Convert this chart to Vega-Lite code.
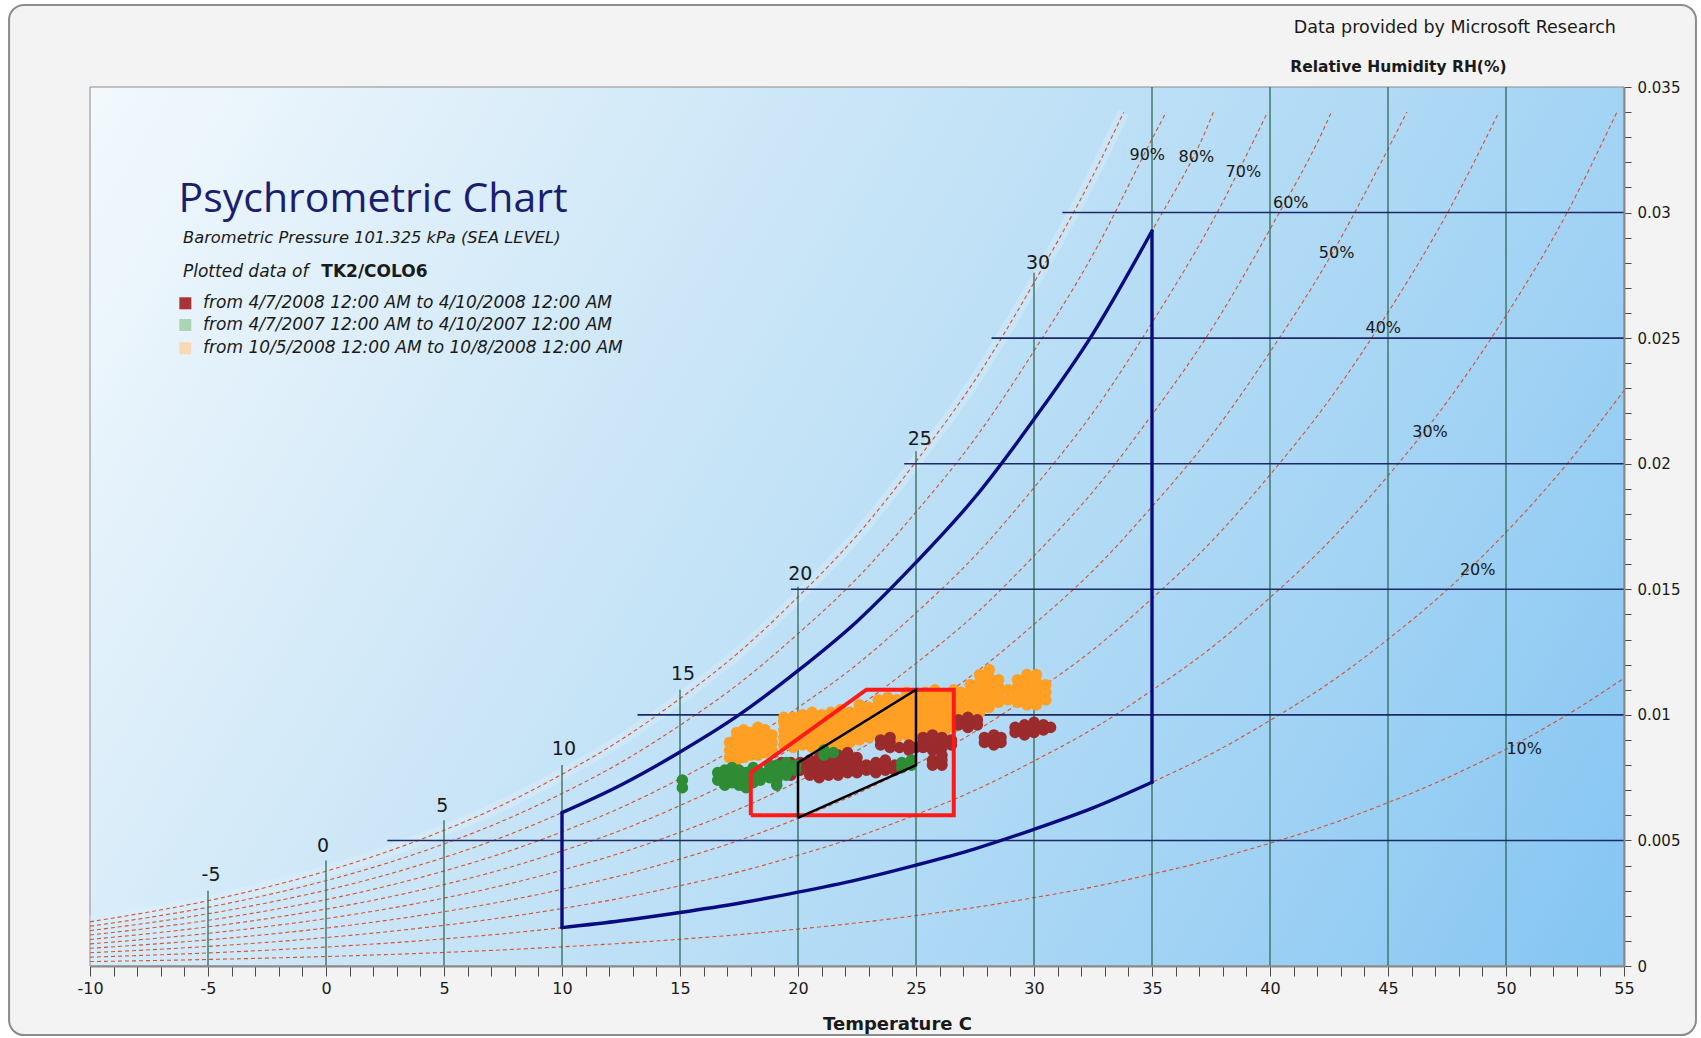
{
  "$schema": "https://vega.github.io/schema/vega-lite/v6.json",
  "width": 1534,
  "height": 879,
  "autosize": {"type": "none"},
  "padding": {"left": 90, "top": 87, "right": 77, "bottom": 72},
  "background": "#ffffff",
  "config": {"view": {"stroke": null}},
  "data": {"values": [{}]},
  "datasets": {
    "rh": [
      {"rh":100,"t":-10,"w":0.0017625},{"rh":100,"t":-7.5,"w":0.0021486},{"rh":100,"t":-5,"w":0.0025982},{"rh":100,"t":-2.5,"w":0.0031404},{"rh":100,"t":0,"w":0.0037747},{"rh":100,"t":2.5,"w":0.0045213},{"rh":100,"t":5,"w":0.0054031},{"rh":100,"t":7.5,"w":0.0064228},{"rh":100,"t":10,"w":0.0076321},{"rh":100,"t":12.5,"w":0.0090093},{"rh":100,"t":15,"w":0.01065},{"rh":100,"t":17.5,"w":0.012496},{"rh":100,"t":20,"w":0.014699},{"rh":100,"t":22.5,"w":0.017151},{"rh":100,"t":25,"w":0.020086},{"rh":100,"t":27.5,"w":0.023329},{"rh":100,"t":30,"w":0.02721},{"rh":100,"t":32.5,"w":0.031479},{"rh":100,"t":33.8,"w":0.034},
      {"rh":90,"t":-10,"w":0.0015863},{"rh":90,"t":-7.5,"w":0.0019337},{"rh":90,"t":-5,"w":0.0023384},{"rh":90,"t":-2.5,"w":0.0028264},{"rh":90,"t":0,"w":0.0033972},{"rh":90,"t":2.5,"w":0.0040692},{"rh":90,"t":5,"w":0.0048628},{"rh":90,"t":7.5,"w":0.0057805},{"rh":90,"t":10,"w":0.0068689},{"rh":90,"t":12.5,"w":0.0081084},{"rh":90,"t":15,"w":0.009585},{"rh":90,"t":17.5,"w":0.011246},{"rh":90,"t":20,"w":0.013229},{"rh":90,"t":22.5,"w":0.015436},{"rh":90,"t":25,"w":0.018077},{"rh":90,"t":27.5,"w":0.020996},{"rh":90,"t":30,"w":0.024489},{"rh":90,"t":32.5,"w":0.028331},{"rh":90,"t":35,"w":0.032926},{"rh":90,"t":35.6,"w":0.034},
      {"rh":80,"t":-10,"w":0.00141},{"rh":80,"t":-7.5,"w":0.0017189},{"rh":80,"t":-5,"w":0.0020786},{"rh":80,"t":-2.5,"w":0.0025123},{"rh":80,"t":0,"w":0.0030198},{"rh":80,"t":2.5,"w":0.003617},{"rh":80,"t":5,"w":0.0043225},{"rh":80,"t":7.5,"w":0.0051382},{"rh":80,"t":10,"w":0.0061057},{"rh":80,"t":12.5,"w":0.0072074},{"rh":80,"t":15,"w":0.00852},{"rh":80,"t":17.5,"w":0.0099968},{"rh":80,"t":20,"w":0.011759},{"rh":80,"t":22.5,"w":0.013721},{"rh":80,"t":25,"w":0.016069},{"rh":80,"t":27.5,"w":0.018663},{"rh":80,"t":30,"w":0.021768},{"rh":80,"t":32.5,"w":0.025183},{"rh":80,"t":35,"w":0.029267},{"rh":80,"t":37.5,"w":0.033764},{"rh":80,"t":37.6,"w":0.034},
      {"rh":70,"t":-10,"w":0.0012338},{"rh":70,"t":-7.5,"w":0.001504},{"rh":70,"t":-5,"w":0.0018187},{"rh":70,"t":-2.5,"w":0.0021983},{"rh":70,"t":0,"w":0.0026423},{"rh":70,"t":2.5,"w":0.0031649},{"rh":70,"t":5,"w":0.0037822},{"rh":70,"t":7.5,"w":0.004496},{"rh":70,"t":10,"w":0.0053425},{"rh":70,"t":12.5,"w":0.0063065},{"rh":70,"t":15,"w":0.007455},{"rh":70,"t":17.5,"w":0.0087472},{"rh":70,"t":20,"w":0.010289},{"rh":70,"t":22.5,"w":0.012006},{"rh":70,"t":25,"w":0.01406},{"rh":70,"t":27.5,"w":0.01633},{"rh":70,"t":30,"w":0.019047},{"rh":70,"t":32.5,"w":0.022035},{"rh":70,"t":35,"w":0.025609},{"rh":70,"t":37.5,"w":0.029544},{"rh":70,"t":39.9,"w":0.034},
      {"rh":60,"t":-10,"w":0.0010575},{"rh":60,"t":-7.5,"w":0.0012892},{"rh":60,"t":-5,"w":0.0015589},{"rh":60,"t":-2.5,"w":0.0018842},{"rh":60,"t":0,"w":0.0022648},{"rh":60,"t":2.5,"w":0.0027128},{"rh":60,"t":5,"w":0.0032419},{"rh":60,"t":7.5,"w":0.0038537},{"rh":60,"t":10,"w":0.0045793},{"rh":60,"t":12.5,"w":0.0054056},{"rh":60,"t":15,"w":0.00639},{"rh":60,"t":17.5,"w":0.0074976},{"rh":60,"t":20,"w":0.0088194},{"rh":60,"t":22.5,"w":0.010291},{"rh":60,"t":25,"w":0.012052},{"rh":60,"t":27.5,"w":0.013997},{"rh":60,"t":30,"w":0.016326},{"rh":60,"t":32.5,"w":0.018887},{"rh":60,"t":35,"w":0.02195},{"rh":60,"t":37.5,"w":0.025323},{"rh":60,"t":40,"w":0.029336},{"rh":60,"t":42.5,"w":0.033787},{"rh":60,"t":42.6,"w":0.034},
      {"rh":50,"t":-10,"w":0.00088125},{"rh":50,"t":-7.5,"w":0.0010743},{"rh":50,"t":-5,"w":0.0012991},{"rh":50,"t":-2.5,"w":0.0015702},{"rh":50,"t":0,"w":0.0018874},{"rh":50,"t":2.5,"w":0.0022607},{"rh":50,"t":5,"w":0.0027016},{"rh":50,"t":7.5,"w":0.0032114},{"rh":50,"t":10,"w":0.0038161},{"rh":50,"t":12.5,"w":0.0045047},{"rh":50,"t":15,"w":0.005325},{"rh":50,"t":17.5,"w":0.006248},{"rh":50,"t":20,"w":0.0073495},{"rh":50,"t":22.5,"w":0.0085755},{"rh":50,"t":25,"w":0.010043},{"rh":50,"t":27.5,"w":0.011665},{"rh":50,"t":30,"w":0.013605},{"rh":50,"t":32.5,"w":0.01574},{"rh":50,"t":35,"w":0.018292},{"rh":50,"t":37.5,"w":0.021103},{"rh":50,"t":40,"w":0.024447},{"rh":50,"t":42.5,"w":0.028156},{"rh":50,"t":45,"w":0.032529},{"rh":50,"t":45.8,"w":0.034},
      {"rh":40,"t":-10,"w":0.000705},{"rh":40,"t":-7.5,"w":0.00085944},{"rh":40,"t":-5,"w":0.0010393},{"rh":40,"t":-2.5,"w":0.0012562},{"rh":40,"t":0,"w":0.0015099},{"rh":40,"t":2.5,"w":0.0018085},{"rh":40,"t":5,"w":0.0021612},{"rh":40,"t":7.5,"w":0.0025691},{"rh":40,"t":10,"w":0.0030528},{"rh":40,"t":12.5,"w":0.0036037},{"rh":40,"t":15,"w":0.00426},{"rh":40,"t":17.5,"w":0.0049984},{"rh":40,"t":20,"w":0.0058796},{"rh":40,"t":22.5,"w":0.0068604},{"rh":40,"t":25,"w":0.0080344},{"rh":40,"t":27.5,"w":0.0093316},{"rh":40,"t":30,"w":0.010884},{"rh":40,"t":32.5,"w":0.012592},{"rh":40,"t":35,"w":0.014634},{"rh":40,"t":37.5,"w":0.016882},{"rh":40,"t":40,"w":0.019558},{"rh":40,"t":42.5,"w":0.022525},{"rh":40,"t":45,"w":0.026023},{"rh":40,"t":47.5,"w":0.029951},{"rh":40,"t":49.7,"w":0.034},
      {"rh":30,"t":-10,"w":0.00052875},{"rh":30,"t":-7.5,"w":0.00064458},{"rh":30,"t":-5,"w":0.00077946},{"rh":30,"t":-2.5,"w":0.00094212},{"rh":30,"t":0,"w":0.0011324},{"rh":30,"t":2.5,"w":0.0013564},{"rh":30,"t":5,"w":0.0016209},{"rh":30,"t":7.5,"w":0.0019268},{"rh":30,"t":10,"w":0.0022896},{"rh":30,"t":12.5,"w":0.0027028},{"rh":30,"t":15,"w":0.003195},{"rh":30,"t":17.5,"w":0.0037488},{"rh":30,"t":20,"w":0.0044097},{"rh":30,"t":22.5,"w":0.0051453},{"rh":30,"t":25,"w":0.0060258},{"rh":30,"t":27.5,"w":0.0069987},{"rh":30,"t":30,"w":0.008163},{"rh":30,"t":32.5,"w":0.0094437},{"rh":30,"t":35,"w":0.010975},{"rh":30,"t":37.5,"w":0.012662},{"rh":30,"t":40,"w":0.014668},{"rh":30,"t":42.5,"w":0.016894},{"rh":30,"t":45,"w":0.019517},{"rh":30,"t":47.5,"w":0.022463},{"rh":30,"t":50,"w":0.025904},{"rh":30,"t":52.5,"w":0.029842},{"rh":30,"t":54.7,"w":0.034},
      {"rh":20,"t":-10,"w":0.0003525},{"rh":20,"t":-7.5,"w":0.00042972},{"rh":20,"t":-5,"w":0.00051964},{"rh":20,"t":-2.5,"w":0.00062808},{"rh":20,"t":0,"w":0.00075494},{"rh":20,"t":2.5,"w":0.00090426},{"rh":20,"t":5,"w":0.0010806},{"rh":20,"t":7.5,"w":0.0012846},{"rh":20,"t":10,"w":0.0015264},{"rh":20,"t":12.5,"w":0.0018019},{"rh":20,"t":15,"w":0.00213},{"rh":20,"t":17.5,"w":0.0024992},{"rh":20,"t":20,"w":0.0029398},{"rh":20,"t":22.5,"w":0.0034302},{"rh":20,"t":25,"w":0.0040172},{"rh":20,"t":27.5,"w":0.0046658},{"rh":20,"t":30,"w":0.005442},{"rh":20,"t":32.5,"w":0.0062958},{"rh":20,"t":35,"w":0.0073168},{"rh":20,"t":37.5,"w":0.008441},{"rh":20,"t":40,"w":0.0097788},{"rh":20,"t":42.5,"w":0.011262},{"rh":20,"t":45,"w":0.013011},{"rh":20,"t":47.5,"w":0.014975},{"rh":20,"t":50,"w":0.017269},{"rh":20,"t":52.5,"w":0.019894},{"rh":20,"t":55,"w":0.022916},
      {"rh":10,"t":-10,"w":0.00017625},{"rh":10,"t":-7.5,"w":0.00021486},{"rh":10,"t":-5,"w":0.00025982},{"rh":10,"t":-2.5,"w":0.00031404},{"rh":10,"t":0,"w":0.00037747},{"rh":10,"t":2.5,"w":0.00045213},{"rh":10,"t":5,"w":0.00054031},{"rh":10,"t":7.5,"w":0.00064228},{"rh":10,"t":10,"w":0.00076321},{"rh":10,"t":12.5,"w":0.00090093},{"rh":10,"t":15,"w":0.001065},{"rh":10,"t":17.5,"w":0.0012496},{"rh":10,"t":20,"w":0.0014699},{"rh":10,"t":22.5,"w":0.0017151},{"rh":10,"t":25,"w":0.0020086},{"rh":10,"t":27.5,"w":0.0023329},{"rh":10,"t":30,"w":0.002721},{"rh":10,"t":32.5,"w":0.0031479},{"rh":10,"t":35,"w":0.0036584},{"rh":10,"t":37.5,"w":0.0042205},{"rh":10,"t":40,"w":0.0048894},{"rh":10,"t":42.5,"w":0.0056312},{"rh":10,"t":45,"w":0.0065057},{"rh":10,"t":47.5,"w":0.0074877},{"rh":10,"t":50,"w":0.0086345},{"rh":10,"t":52.5,"w":0.0099472},{"rh":10,"t":55,"w":0.011458}
    ],
    "drybulb": [
      {"t":-5,"w":0,"w2":0.003},{"t":0,"w":0,"w2":0.0042},{"t":5,"w":0,"w2":0.0058},{"t":10,"w":0,"w2":0.008},
      {"t":15,"w":0,"w2":0.011},{"t":20,"w":0,"w2":0.0151},{"t":25,"w":0,"w2":0.0205},{"t":30,"w":0,"w2":0.0276},
      {"t":35,"w":0,"w2":0.035},{"t":40,"w":0,"w2":0.035},{"t":45,"w":0,"w2":0.035},{"t":50,"w":0,"w2":0.035}
    ],
    "ratio": [
      {"w":0.005,"t":2.6,"t2":55},{"w":0.01,"t":13.2,"t2":55},{"w":0.015,"t":19.7,"t2":55},
      {"w":0.02,"t":24.5,"t2":55},{"w":0.025,"t":28.2,"t2":55},{"w":0.03,"t":31.2,"t2":55}
    ],
    "envelope": [
      {"seg":"left","t":10,"w":0.0015264},{"seg":"left","t":10,"w":0.0061057},
      {"seg":"top","t":10,"w":0.0061057},{"seg":"top","t":12.5,"w":0.0072074},{"seg":"top","t":15,"w":0.00852},{"seg":"top","t":17.5,"w":0.0099968},{"seg":"top","t":20,"w":0.011759},{"seg":"top","t":22.5,"w":0.013721},{"seg":"top","t":25,"w":0.016069},{"seg":"top","t":27.5,"w":0.018663},{"seg":"top","t":30,"w":0.021768},{"seg":"top","t":32.5,"w":0.025183},{"seg":"top","t":35,"w":0.029267},
      {"seg":"right","t":35,"w":0.029267},{"seg":"right","t":35,"w":0.0073168},
      {"seg":"bottom","t":10,"w":0.0015264},{"seg":"bottom","t":12.5,"w":0.0018019},{"seg":"bottom","t":15,"w":0.00213},{"seg":"bottom","t":17.5,"w":0.0024992},{"seg":"bottom","t":20,"w":0.0029398},{"seg":"bottom","t":22.5,"w":0.0034302},{"seg":"bottom","t":25,"w":0.0040172},{"seg":"bottom","t":27.5,"w":0.0046658},{"seg":"bottom","t":30,"w":0.005442},{"seg":"bottom","t":32.5,"w":0.0062958},{"seg":"bottom","t":35,"w":0.0073168}
    ],
    "recommended": [
      {"i":0,"t":18,"w":0.006},{"i":1,"t":18,"w":0.0077},{"i":2,"t":22.9,"w":0.011},{"i":3,"t":26.6,"w":0.011},{"i":4,"t":26.6,"w":0.006},{"i":5,"t":18,"w":0.006}
    ],
    "comfort": [
      {"i":0,"t":20,"w":0.0059},{"i":1,"t":20,"w":0.0081},{"i":2,"t":25,"w":0.011},{"i":3,"t":25,"w":0.008},{"i":4,"t":20,"w":0.0059}
    ],
    "tlabels": [
      {"lab":"-5","t":-4.87,"w":0.00363},{"lab":"0","t":-0.13,"w":0.00476},{"lab":"5","t":4.93,"w":0.00639},{"lab":"10","t":10.08,"w":0.00864},
      {"lab":"15","t":15.13,"w":0.01163},{"lab":"20","t":20.1,"w":0.0156},{"lab":"25","t":25.16,"w":0.021},{"lab":"30","t":30.17,"w":0.028}
    ],
    "rhlabels": [
      {"lab":"90%","t":34.8,"w":0.03228},{"lab":"80%","t":36.88,"w":0.0322},{"lab":"70%","t":38.87,"w":0.03163},
      {"lab":"60%","t":40.88,"w":0.03037},{"lab":"50%","t":42.82,"w":0.02839},{"lab":"40%","t":44.8,"w":0.02541},
      {"lab":"30%","t":46.78,"w":0.02126},{"lab":"20%","t":48.8,"w":0.01577},{"lab":"10%","t":50.77,"w":0.00864}
    ],
    "readings": [
      {"s":"c","t":17.1,"w":0.0083},{"s":"c","t":17.1,"w":0.0086},{"s":"c","t":17.1,"w":0.0089},
      {"s":"c","t":17.4,"w":0.0082},{"s":"c","t":17.4,"w":0.0085},{"s":"c","t":17.4,"w":0.0088},{"s":"c","t":17.4,"w":0.0091},{"s":"c","t":17.4,"w":0.0093},
      {"s":"c","t":17.7,"w":0.0083},{"s":"c","t":17.7,"w":0.0086},{"s":"c","t":17.7,"w":0.0089},{"s":"c","t":17.7,"w":0.0092},{"s":"c","t":17.7,"w":0.0094},
      {"s":"c","t":18.0,"w":0.0084},{"s":"c","t":18.0,"w":0.0087},{"s":"c","t":18.0,"w":0.009},{"s":"c","t":18.0,"w":0.0093},
      {"s":"c","t":18.3,"w":0.0084},{"s":"c","t":18.3,"w":0.0087},{"s":"c","t":18.3,"w":0.009},{"s":"c","t":18.3,"w":0.0093},{"s":"c","t":18.3,"w":0.0095},
      {"s":"c","t":18.6,"w":0.0085},{"s":"c","t":18.6,"w":0.0088},{"s":"c","t":18.6,"w":0.0091},{"s":"c","t":18.6,"w":0.0094},
      {"s":"c","t":18.9,"w":0.0086},{"s":"c","t":18.9,"w":0.0089},{"s":"c","t":18.9,"w":0.0092},
      {"s":"c","t":19.4,"w":0.0088},{"s":"c","t":19.4,"w":0.0091},{"s":"c","t":19.4,"w":0.0094},{"s":"c","t":19.4,"w":0.0097},{"s":"c","t":19.4,"w":0.0099},
      {"s":"c","t":19.8,"w":0.0087},{"s":"c","t":19.8,"w":0.009},{"s":"c","t":19.8,"w":0.0093},{"s":"c","t":19.8,"w":0.0096},{"s":"c","t":19.8,"w":0.0099},
      {"s":"c","t":20.2,"w":0.0088},{"s":"c","t":20.2,"w":0.0091},{"s":"c","t":20.2,"w":0.0094},{"s":"c","t":20.2,"w":0.0097},{"s":"c","t":20.2,"w":0.01},
      {"s":"c","t":20.6,"w":0.0087},{"s":"c","t":20.6,"w":0.009},{"s":"c","t":20.6,"w":0.0093},{"s":"c","t":20.6,"w":0.0096},{"s":"c","t":20.6,"w":0.0099},{"s":"c","t":20.6,"w":0.0101},
      {"s":"c","t":21.0,"w":0.0088},{"s":"c","t":21.0,"w":0.0091},{"s":"c","t":21.0,"w":0.0094},{"s":"c","t":21.0,"w":0.0097},{"s":"c","t":21.0,"w":0.01},
      {"s":"c","t":21.4,"w":0.0089},{"s":"c","t":21.4,"w":0.0092},{"s":"c","t":21.4,"w":0.0095},{"s":"c","t":21.4,"w":0.0098},{"s":"c","t":21.4,"w":0.0101},
      {"s":"c","t":21.8,"w":0.0088},{"s":"c","t":21.8,"w":0.0091},{"s":"c","t":21.8,"w":0.0094},{"s":"c","t":21.8,"w":0.0097},{"s":"c","t":21.8,"w":0.01},{"s":"c","t":21.8,"w":0.0102},
      {"s":"c","t":22.2,"w":0.0089},{"s":"c","t":22.2,"w":0.0092},{"s":"c","t":22.2,"w":0.0095},{"s":"c","t":22.2,"w":0.0098},{"s":"c","t":22.2,"w":0.0101},
      {"s":"c","t":22.6,"w":0.009},{"s":"c","t":22.6,"w":0.0093},{"s":"c","t":22.6,"w":0.0096},{"s":"c","t":22.6,"w":0.0099},{"s":"c","t":22.6,"w":0.0102},{"s":"c","t":22.6,"w":0.0104},
      {"s":"c","t":23.0,"w":0.0091},{"s":"c","t":23.0,"w":0.0094},{"s":"c","t":23.0,"w":0.0097},{"s":"c","t":23.0,"w":0.01},{"s":"c","t":23.0,"w":0.0103},
      {"s":"c","t":23.4,"w":0.0092},{"s":"c","t":23.4,"w":0.0095},{"s":"c","t":23.4,"w":0.0098},{"s":"c","t":23.4,"w":0.0101},{"s":"c","t":23.4,"w":0.0104},{"s":"c","t":23.4,"w":0.0106},
      {"s":"c","t":23.8,"w":0.0092},{"s":"c","t":23.8,"w":0.0095},{"s":"c","t":23.8,"w":0.0098},{"s":"c","t":23.8,"w":0.0101},{"s":"c","t":23.8,"w":0.0104},{"s":"c","t":23.8,"w":0.0107},
      {"s":"c","t":24.2,"w":0.0091},{"s":"c","t":24.2,"w":0.0094},{"s":"c","t":24.2,"w":0.0097},{"s":"c","t":24.2,"w":0.01},{"s":"c","t":24.2,"w":0.0103},{"s":"c","t":24.2,"w":0.0106},
      {"s":"c","t":24.6,"w":0.0092},{"s":"c","t":24.6,"w":0.0095},{"s":"c","t":24.6,"w":0.0098},{"s":"c","t":24.6,"w":0.0101},{"s":"c","t":24.6,"w":0.0104},{"s":"c","t":24.6,"w":0.0107},{"s":"c","t":24.6,"w":0.0109},
      {"s":"c","t":25.0,"w":0.009},{"s":"c","t":25.0,"w":0.0093},{"s":"c","t":25.0,"w":0.0096},{"s":"c","t":25.0,"w":0.0099},{"s":"c","t":25.0,"w":0.0102},{"s":"c","t":25.0,"w":0.0105},{"s":"c","t":25.0,"w":0.0108},
      {"s":"c","t":25.4,"w":0.0088},{"s":"c","t":25.4,"w":0.0091},{"s":"c","t":25.4,"w":0.0094},{"s":"c","t":25.4,"w":0.0097},{"s":"c","t":25.4,"w":0.01},{"s":"c","t":25.4,"w":0.0103},{"s":"c","t":25.4,"w":0.0106},{"s":"c","t":25.4,"w":0.0109},
      {"s":"c","t":25.8,"w":0.0089},{"s":"c","t":25.8,"w":0.0092},{"s":"c","t":25.8,"w":0.0095},{"s":"c","t":25.8,"w":0.0098},{"s":"c","t":25.8,"w":0.0101},{"s":"c","t":25.8,"w":0.0104},{"s":"c","t":25.8,"w":0.0107},{"s":"c","t":25.8,"w":0.011},
      {"s":"c","t":26.2,"w":0.009},{"s":"c","t":26.2,"w":0.0093},{"s":"c","t":26.2,"w":0.0096},{"s":"c","t":26.2,"w":0.0099},{"s":"c","t":26.2,"w":0.0102},{"s":"c","t":26.2,"w":0.0105},{"s":"c","t":26.2,"w":0.0108},
      {"s":"c","t":26.6,"w":0.0095},{"s":"c","t":26.6,"w":0.0098},{"s":"c","t":26.6,"w":0.0101},{"s":"c","t":26.6,"w":0.0104},{"s":"c","t":26.6,"w":0.0107},{"s":"c","t":26.6,"w":0.011},
      {"s":"c","t":26.9,"w":0.01},{"s":"c","t":26.9,"w":0.0103},{"s":"c","t":26.9,"w":0.0106},{"s":"c","t":26.9,"w":0.0109},
      {"s":"c","t":27.3,"w":0.01},{"s":"c","t":27.3,"w":0.0103},{"s":"c","t":27.3,"w":0.0106},{"s":"c","t":27.3,"w":0.0109},{"s":"c","t":27.3,"w":0.0112},
      {"s":"c","t":27.7,"w":0.0101},{"s":"c","t":27.7,"w":0.0104},{"s":"c","t":27.7,"w":0.0107},{"s":"c","t":27.7,"w":0.011},{"s":"c","t":27.7,"w":0.0113},{"s":"c","t":27.7,"w":0.0116},
      {"s":"c","t":28.1,"w":0.0103},{"s":"c","t":28.1,"w":0.0106},{"s":"c","t":28.1,"w":0.0109},{"s":"c","t":28.1,"w":0.0112},{"s":"c","t":28.1,"w":0.0115},{"s":"c","t":28.1,"w":0.0118},
      {"s":"c","t":28.5,"w":0.0105},{"s":"c","t":28.5,"w":0.0108},{"s":"c","t":28.5,"w":0.0111},{"s":"c","t":28.5,"w":0.0114},
      {"s":"c","t":28.9,"w":0.0106},{"s":"c","t":28.9,"w":0.011},
      {"s":"c","t":29.3,"w":0.0105},{"s":"c","t":29.3,"w":0.0108},{"s":"c","t":29.3,"w":0.0111},{"s":"c","t":29.3,"w":0.0114},
      {"s":"c","t":29.7,"w":0.0104},{"s":"c","t":29.7,"w":0.0107},{"s":"c","t":29.7,"w":0.011},{"s":"c","t":29.7,"w":0.0113},{"s":"c","t":29.7,"w":0.0116},
      {"s":"c","t":30.1,"w":0.0104},{"s":"c","t":30.1,"w":0.0107},{"s":"c","t":30.1,"w":0.011},{"s":"c","t":30.1,"w":0.0113},{"s":"c","t":30.1,"w":0.0116},
      {"s":"c","t":30.5,"w":0.0106},{"s":"c","t":30.5,"w":0.0109},{"s":"c","t":30.5,"w":0.0112},
      {"s":"a","t":19.3,"w":0.0079},{"s":"a","t":19.3,"w":0.0081},
      {"s":"a","t":19.7,"w":0.0076},{"s":"a","t":19.7,"w":0.0079},{"s":"a","t":19.7,"w":0.0081},
      {"s":"a","t":20.1,"w":0.0078},{"s":"a","t":20.1,"w":0.0081},
      {"s":"a","t":20.5,"w":0.0076},{"s":"a","t":20.5,"w":0.0078},{"s":"a","t":20.5,"w":0.008},{"s":"a","t":20.5,"w":0.0082},
      {"s":"a","t":20.9,"w":0.0075},{"s":"a","t":20.9,"w":0.0077},{"s":"a","t":20.9,"w":0.0079},{"s":"a","t":20.9,"w":0.0081},{"s":"a","t":20.9,"w":0.0083},
      {"s":"a","t":21.3,"w":0.0076},{"s":"a","t":21.3,"w":0.0078},{"s":"a","t":21.3,"w":0.008},{"s":"a","t":21.3,"w":0.0082},
      {"s":"a","t":21.7,"w":0.0076},{"s":"a","t":21.7,"w":0.0078},{"s":"a","t":21.7,"w":0.008},{"s":"a","t":21.7,"w":0.0082},{"s":"a","t":21.7,"w":0.0084},
      {"s":"a","t":22.1,"w":0.0077},{"s":"a","t":22.1,"w":0.0079},{"s":"a","t":22.1,"w":0.0081},{"s":"a","t":22.1,"w":0.0083},{"s":"a","t":22.1,"w":0.0085},
      {"s":"a","t":22.5,"w":0.0077},{"s":"a","t":22.5,"w":0.0079},{"s":"a","t":22.5,"w":0.0081},{"s":"a","t":22.5,"w":0.0083},
      {"s":"a","t":22.9,"w":0.0078},{"s":"a","t":22.9,"w":0.008},
      {"s":"a","t":23.3,"w":0.0077},{"s":"a","t":23.3,"w":0.0079},{"s":"a","t":23.3,"w":0.0081},
      {"s":"a","t":23.7,"w":0.0078},{"s":"a","t":23.7,"w":0.008},{"s":"a","t":23.7,"w":0.0082},
      {"s":"a","t":24.1,"w":0.0078},{"s":"a","t":24.1,"w":0.008},
      {"s":"a","t":23.5,"w":0.0088},{"s":"a","t":23.5,"w":0.009},
      {"s":"a","t":23.9,"w":0.0087},{"s":"a","t":23.9,"w":0.0089},{"s":"a","t":23.9,"w":0.0091},
      {"s":"a","t":24.3,"w":0.0087},{"s":"a","t":24.7,"w":0.0086},{"s":"a","t":24.7,"w":0.0088},{"s":"a","t":25.0,"w":0.0087},
      {"s":"a","t":25.3,"w":0.0087},{"s":"a","t":25.3,"w":0.0089},{"s":"a","t":25.3,"w":0.0091},
      {"s":"a","t":25.7,"w":0.0086},{"s":"a","t":25.7,"w":0.0088},{"s":"a","t":25.7,"w":0.009},{"s":"a","t":25.7,"w":0.0092},
      {"s":"a","t":26.1,"w":0.0087},{"s":"a","t":26.1,"w":0.0089},{"s":"a","t":26.1,"w":0.0091},
      {"s":"a","t":26.5,"w":0.0088},{"s":"a","t":26.5,"w":0.009},
      {"s":"a","t":25.7,"w":0.008},{"s":"a","t":25.7,"w":0.0082},
      {"s":"a","t":26.1,"w":0.008},{"s":"a","t":26.1,"w":0.0082},{"s":"a","t":26.1,"w":0.0084},
      {"s":"a","t":26.8,"w":0.0096},{"s":"a","t":26.8,"w":0.0098},
      {"s":"a","t":27.2,"w":0.0095},{"s":"a","t":27.2,"w":0.0097},{"s":"a","t":27.2,"w":0.0099},
      {"s":"a","t":27.6,"w":0.0096},{"s":"a","t":27.6,"w":0.0098},
      {"s":"a","t":27.9,"w":0.0089},{"s":"a","t":27.9,"w":0.0091},
      {"s":"a","t":28.3,"w":0.0088},{"s":"a","t":28.3,"w":0.009},{"s":"a","t":28.3,"w":0.0092},
      {"s":"a","t":28.6,"w":0.0089},{"s":"a","t":28.6,"w":0.0091},
      {"s":"a","t":29.2,"w":0.0093},{"s":"a","t":29.2,"w":0.0095},
      {"s":"a","t":29.6,"w":0.0092},{"s":"a","t":29.6,"w":0.0094},{"s":"a","t":29.6,"w":0.0096},
      {"s":"a","t":30.0,"w":0.0093},{"s":"a","t":30.0,"w":0.0095},{"s":"a","t":30.0,"w":0.0097},
      {"s":"a","t":30.4,"w":0.0094},{"s":"a","t":30.4,"w":0.0096},{"s":"a","t":30.7,"w":0.0095},
      {"s":"b","t":15.1,"w":0.0071},{"s":"b","t":15.1,"w":0.0074},
      {"s":"b","t":16.6,"w":0.0074},{"s":"b","t":16.6,"w":0.0077},
      {"s":"b","t":16.9,"w":0.0072},{"s":"b","t":16.9,"w":0.0075},{"s":"b","t":16.9,"w":0.0078},
      {"s":"b","t":17.2,"w":0.0073},{"s":"b","t":17.2,"w":0.0076},{"s":"b","t":17.2,"w":0.0079},
      {"s":"b","t":17.5,"w":0.0072},{"s":"b","t":17.5,"w":0.0075},{"s":"b","t":17.5,"w":0.0078},
      {"s":"b","t":17.8,"w":0.0071},{"s":"b","t":17.8,"w":0.0074},{"s":"b","t":17.8,"w":0.0077},
      {"s":"b","t":18.1,"w":0.0073},{"s":"b","t":18.1,"w":0.0076},{"s":"b","t":18.1,"w":0.0079},
      {"s":"b","t":18.4,"w":0.0074},{"s":"b","t":18.4,"w":0.0077},
      {"s":"b","t":18.8,"w":0.0075},{"s":"b","t":18.8,"w":0.0078},{"s":"b","t":18.8,"w":0.008},
      {"s":"b","t":19.1,"w":0.0072},{"s":"b","t":19.1,"w":0.0074},{"s":"b","t":19.1,"w":0.0077},{"s":"b","t":19.1,"w":0.008},
      {"s":"b","t":19.5,"w":0.0076},{"s":"b","t":19.5,"w":0.0079},{"s":"b","t":19.5,"w":0.0081},
      {"s":"b","t":19.9,"w":0.0078},{"s":"b","t":19.9,"w":0.008},
      {"s":"b","t":21.1,"w":0.0084},{"s":"b","t":21.1,"w":0.0086},{"s":"b","t":21.5,"w":0.0085},
      {"s":"b","t":24.4,"w":0.0079},{"s":"b","t":24.4,"w":0.0081},{"s":"b","t":24.8,"w":0.008},{"s":"b","t":24.8,"w":0.0082}
    ]
  },
  "layer": [
    {
      "encoding": {
        "x": {
          "datum": -10, "type": "quantitative",
          "scale": {"domain": [-10, 55], "nice": false, "zero": false},
          "axis": {
            "orient": "bottom", "zindex": 1,
            "values": [-10,-9,-8,-7,-6,-5,-4,-3,-2,-1,0,1,2,3,4,5,6,7,8,9,10,11,12,13,14,15,16,17,18,19,20,21,22,23,24,25,26,27,28,29,30,31,32,33,34,35,36,37,38,39,40,41,42,43,44,45,46,47,48,49,50,51,52,53,54,55],
            "labelExpr": "datum.value % 5 === 0 ? '' + datum.value : ''",
            "labelFont": "DejaVu Sans", "labelFontSize": 16, "labelColor": "#1a1a1a",
            "labelPadding": 4, "labelOverlap": false, "labelFlush": false,
            "tickColor": "#4a4a4a", "tickSize": 10, "tickWidth": 1,
            "domainColor": "#8a8a8a", "domainWidth": 2, "grid": false,
            "title": "Temperature C", "titleFont": "DejaVu Sans", "titleFontSize": 18, "titleFontWeight": "bold",
            "titleColor": "#1a1a1a", "titleX": 807, "titleY": 63, "titleBaseline": "alphabetic", "titleAlign": "center"
          }
        },
        "y": {
          "datum": 0, "type": "quantitative",
          "scale": {"domain": [0, 0.035], "nice": false, "zero": false},
          "axis": {
            "orient": "right", "zindex": 1,
            "values": [0,0.001,0.002,0.003,0.004,0.005,0.006,0.007,0.008,0.009,0.01,0.011,0.012,0.013,0.014,0.015,0.016,0.017,0.018,0.019,0.02,0.021,0.022,0.023,0.024,0.025,0.026,0.027,0.028,0.029,0.03,0.031,0.032,0.033,0.034,0.035],
            "labelExpr": "round(datum.value * 1000) % 5 === 0 ? format(datum.value, '~g') : ''",
            "labelFont": "DejaVu Sans", "labelFontSize": 15, "labelColor": "#1a1a1a",
            "labelPadding": 6, "labelOverlap": false, "labelFlush": false,
            "tickColor": "#4a4a4a", "tickSize": 7, "tickWidth": 1,
            "domainColor": "#8a8a8a", "domainWidth": 2, "grid": false, "title": null
          }
        }
      },
      "layer": [
        {
          "mark": {"type": "rect", "cornerRadius": 15, "fill": "#f3f3f3", "stroke": "#8c8c8c", "strokeWidth": 2},
          "encoding": {
            "x": {"datum": -13.43}, "x2": {"datum": 58.05},
            "y": {"datum": 0.03827}, "y2": {"datum": -0.00275}
          }
        },
        {
          "mark": {
            "type": "rect",
            "stroke": "#8c8c8c",
            "strokeWidth": 1,
            "fill": {
              "gradient": "linear", "x1": 0, "y1": 0, "x2": 1.2, "y2": 0.4,
              "stops": [
                {"offset": 0, "color": "#f3f9fd"},
                {"offset": 0.3, "color": "#d2e9f8"},
                {"offset": 0.55, "color": "#b9def6"},
                {"offset": 0.8, "color": "#9ed1f4"},
                {"offset": 1, "color": "#84c5f2"}
              ]
            }
          },
          "encoding": {
            "x": {"datum": -10}, "x2": {"datum": 55},
            "y": {"datum": 0}, "y2": {"datum": 0.035}
          }
        }
      ]
    },
    {
      "encoding": {
        "x": {
          "field": "t", "type": "quantitative",
          "scale": {"domain": [-10, 55], "nice": false, "zero": false},
          "axis": {
            "orient": "bottom", "zindex": 1,
            "values": [-10,-9,-8,-7,-6,-5,-4,-3,-2,-1,0,1,2,3,4,5,6,7,8,9,10,11,12,13,14,15,16,17,18,19,20,21,22,23,24,25,26,27,28,29,30,31,32,33,34,35,36,37,38,39,40,41,42,43,44,45,46,47,48,49,50,51,52,53,54,55],
            "labelExpr": "datum.value % 5 === 0 ? '' + datum.value : ''",
            "labelFont": "DejaVu Sans", "labelFontSize": 16, "labelColor": "#1a1a1a",
            "labelPadding": 4, "labelOverlap": false, "labelFlush": false,
            "tickColor": "#4a4a4a", "tickSize": 10, "tickWidth": 1,
            "domainColor": "#8a8a8a", "domainWidth": 2, "grid": false,
            "title": "Temperature C", "titleFont": "DejaVu Sans", "titleFontSize": 18, "titleFontWeight": "bold",
            "titleColor": "#1a1a1a", "titleX": 807, "titleY": 63, "titleBaseline": "alphabetic", "titleAlign": "center"
          }
        },
        "y": {
          "field": "w", "type": "quantitative",
          "scale": {"domain": [0, 0.035], "nice": false, "zero": false},
          "axis": {
            "orient": "right", "zindex": 1,
            "values": [0,0.001,0.002,0.003,0.004,0.005,0.006,0.007,0.008,0.009,0.01,0.011,0.012,0.013,0.014,0.015,0.016,0.017,0.018,0.019,0.02,0.021,0.022,0.023,0.024,0.025,0.026,0.027,0.028,0.029,0.03,0.031,0.032,0.033,0.034,0.035],
            "labelExpr": "round(datum.value * 1000) % 5 === 0 ? format(datum.value, '~g') : ''",
            "labelFont": "DejaVu Sans", "labelFontSize": 15, "labelColor": "#1a1a1a",
            "labelPadding": 6, "labelOverlap": false, "labelFlush": false,
            "tickColor": "#4a4a4a", "tickSize": 7, "tickWidth": 1,
            "domainColor": "#8a8a8a", "domainWidth": 2, "grid": false, "title": null
          }
        }
      },
      "layer": [
        {
          "data": {"name": "rh"},
          "transform": [{"filter": "datum.rh == 100"}],
          "mark": {"type": "line", "interpolate": "monotone", "strokeWidth": 12, "color": "#e2f1fb", "opacity": 0.35}
        },
        {
          "data": {"name": "rh"},
          "mark": {"type": "line", "interpolate": "monotone", "strokeWidth": 1.1, "strokeDash": [4, 3], "color": "#d8502f"},
          "encoding": {"detail": {"field": "rh", "type": "nominal"}}
        },
        {
          "data": {"name": "drybulb"},
          "mark": {"type": "rule", "color": "#2f6a56", "strokeWidth": 1.3},
          "encoding": {"y2": {"field": "w2"}}
        },
        {
          "data": {"name": "ratio"},
          "mark": {"type": "rule", "color": "#1e2a66", "strokeWidth": 1.6},
          "encoding": {"x2": {"field": "t2"}}
        },
        {
          "data": {"name": "envelope"},
          "mark": {"type": "line", "interpolate": "monotone", "strokeWidth": 3.4, "color": "#0b0b80", "strokeCap": "round"},
          "encoding": {"detail": {"field": "seg", "type": "nominal"}}
        },
        {
          "data": {"name": "readings"},
          "mark": {"type": "point", "shape": "circle", "filled": true, "size": 135, "opacity": 1},
          "encoding": {
            "color": {"field": "s", "type": "nominal", "scale": {"domain": ["a", "b", "c"], "range": ["#9b2b2d", "#2f8c35", "#ffa024"]}, "legend": null}
          }
        },
        {
          "data": {"name": "recommended"},
          "mark": {"type": "line", "strokeWidth": 4, "color": "#ff1a1a", "strokeJoin": "miter"},
          "encoding": {"order": {"field": "i", "type": "quantitative"}}
        },
        {
          "data": {"name": "comfort"},
          "mark": {"type": "line", "strokeWidth": 2.5, "color": "#000000", "strokeJoin": "miter"},
          "encoding": {"order": {"field": "i", "type": "quantitative"}}
        },
        {
          "data": {"name": "tlabels"},
          "mark": {"type": "text", "font": "DejaVu Sans", "fontSize": 19, "color": "#1a1a1a", "align": "center", "baseline": "middle"},
          "encoding": {"text": {"field": "lab"}}
        },
        {
          "data": {"name": "rhlabels"},
          "mark": {"type": "text", "font": "DejaVu Sans", "fontSize": 16, "color": "#1a1a1a", "align": "center", "baseline": "middle"},
          "encoding": {"text": {"field": "lab"}}
        }
      ]
    },
    {
      "encoding": {
        "x": {
          "datum": -10, "type": "quantitative",
          "scale": {"domain": [-10, 55], "nice": false, "zero": false},
          "axis": {
            "orient": "bottom", "zindex": 1,
            "values": [-10,-9,-8,-7,-6,-5,-4,-3,-2,-1,0,1,2,3,4,5,6,7,8,9,10,11,12,13,14,15,16,17,18,19,20,21,22,23,24,25,26,27,28,29,30,31,32,33,34,35,36,37,38,39,40,41,42,43,44,45,46,47,48,49,50,51,52,53,54,55],
            "labelExpr": "datum.value % 5 === 0 ? '' + datum.value : ''",
            "labelFont": "DejaVu Sans", "labelFontSize": 16, "labelColor": "#1a1a1a",
            "labelPadding": 4, "labelOverlap": false, "labelFlush": false,
            "tickColor": "#4a4a4a", "tickSize": 10, "tickWidth": 1,
            "domainColor": "#8a8a8a", "domainWidth": 2, "grid": false,
            "title": "Temperature C", "titleFont": "DejaVu Sans", "titleFontSize": 18, "titleFontWeight": "bold",
            "titleColor": "#1a1a1a", "titleX": 807, "titleY": 63, "titleBaseline": "alphabetic", "titleAlign": "center"
          }
        },
        "y": {
          "datum": 0, "type": "quantitative",
          "scale": {"domain": [0, 0.035], "nice": false, "zero": false},
          "axis": {
            "orient": "right", "zindex": 1,
            "values": [0,0.001,0.002,0.003,0.004,0.005,0.006,0.007,0.008,0.009,0.01,0.011,0.012,0.013,0.014,0.015,0.016,0.017,0.018,0.019,0.02,0.021,0.022,0.023,0.024,0.025,0.026,0.027,0.028,0.029,0.03,0.031,0.032,0.033,0.034,0.035],
            "labelExpr": "round(datum.value * 1000) % 5 === 0 ? format(datum.value, '~g') : ''",
            "labelFont": "DejaVu Sans", "labelFontSize": 15, "labelColor": "#1a1a1a",
            "labelPadding": 6, "labelOverlap": false, "labelFlush": false,
            "tickColor": "#4a4a4a", "tickSize": 7, "tickWidth": 1,
            "domainColor": "#8a8a8a", "domainWidth": 2, "grid": false, "title": null
          }
        }
      },
      "layer": [
        {
          "mark": {"type": "text", "text": "Psychrometric Chart", "font": "Open Sans", "fontSize": 41, "color": "#1b1e6e", "align": "left", "baseline": "alphabetic"},
          "encoding": {"x": {"datum": -6.25}, "y": {"datum": 0.030035}}
        },
        {
          "mark": {"type": "text", "text": "Barometric Pressure 101.325 kPa (SEA LEVEL)", "font": "DejaVu Sans", "fontStyle": "italic", "fontSize": 16.3, "color": "#1a1a1a", "align": "left", "baseline": "alphabetic"},
          "encoding": {"x": {"datum": -6.06}, "y": {"datum": 0.028776}}
        },
        {
          "mark": {"type": "text", "text": "Plotted data of", "font": "DejaVu Sans", "fontStyle": "italic", "fontSize": 17, "color": "#1a1a1a", "align": "left", "baseline": "alphabetic"},
          "encoding": {"x": {"datum": -6.06}, "y": {"datum": 0.027447}}
        },
        {
          "mark": {"type": "text", "text": "TK2/COLO6", "font": "DejaVu Sans", "fontWeight": "bold", "fontSize": 17, "color": "#1a1a1a", "align": "left", "baseline": "alphabetic"},
          "encoding": {"x": {"datum": -0.2}, "y": {"datum": 0.027447}}
        },
        {
          "mark": {"type": "square", "filled": true, "size": 144, "color": "#a83236", "opacity": 1},
          "encoding": {"x": {"datum": -5.96}, "y": {"datum": 0.026387}}
        },
        {
          "mark": {"type": "square", "filled": true, "size": 144, "color": "#a9d4b5", "opacity": 1},
          "encoding": {"x": {"datum": -5.96}, "y": {"datum": 0.025523}}
        },
        {
          "mark": {"type": "square", "filled": true, "size": 144, "color": "#f7d9b5", "opacity": 1},
          "encoding": {"x": {"datum": -5.96}, "y": {"datum": 0.024596}}
        },
        {
          "mark": {"type": "text", "text": "from 4/7/2008 12:00 AM to 4/10/2008 12:00 AM", "font": "DejaVu Sans", "fontStyle": "italic", "fontSize": 17, "color": "#1a1a1a", "align": "left", "baseline": "middle"},
          "encoding": {"x": {"datum": -5.21}, "y": {"datum": 0.026387}}
        },
        {
          "mark": {"type": "text", "text": "from 4/7/2007 12:00 AM to 4/10/2007 12:00 AM", "font": "DejaVu Sans", "fontStyle": "italic", "fontSize": 17, "color": "#1a1a1a", "align": "left", "baseline": "middle"},
          "encoding": {"x": {"datum": -5.21}, "y": {"datum": 0.025523}}
        },
        {
          "mark": {"type": "text", "text": "from 10/5/2008 12:00 AM to 10/8/2008 12:00 AM", "font": "DejaVu Sans", "fontStyle": "italic", "fontSize": 17, "color": "#1a1a1a", "align": "left", "baseline": "middle"},
          "encoding": {"x": {"datum": -5.21}, "y": {"datum": 0.024596}}
        },
        {
          "mark": {"type": "text", "text": "Data provided by Microsoft Research", "font": "DejaVu Sans", "fontSize": 17.5, "color": "#1a1a1a", "align": "right", "baseline": "alphabetic"},
          "encoding": {"x": {"datum": 54.66}, "y": {"datum": 0.03715}}
        },
        {
          "mark": {"type": "text", "text": "Relative Humidity RH(%)", "font": "DejaVu Sans", "fontWeight": "bold", "fontSize": 15.5, "color": "#1a1a1a", "align": "center", "baseline": "alphabetic"},
          "encoding": {"x": {"datum": 45.44}, "y": {"datum": 0.03561}}
        }
      ]
    }
  ]
}
